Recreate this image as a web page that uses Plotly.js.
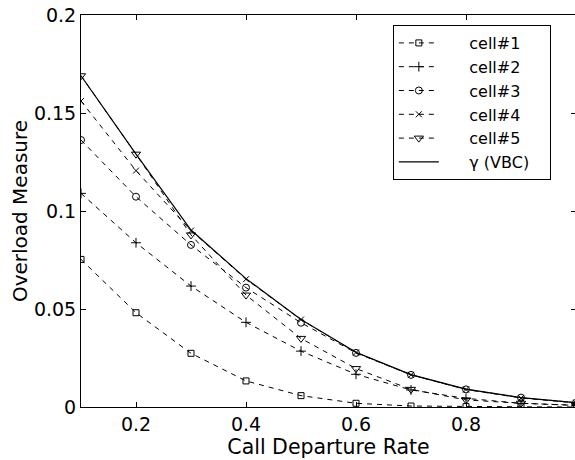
<!DOCTYPE html>
<html>
<head>
<meta charset="utf-8">
<script src="https://cdn.plot.ly/plotly-3.0.1.min.js"></script>
<style>html,body{margin:0;padding:0;overflow:hidden;background:#fff;}</style>
</head>
<body>
<div id="chart" style="width:576px;height:460px;"></div>
<script>
const rates = [0.1, 0.2, 0.3, 0.4, 0.5, 0.6, 0.7, 0.8, 0.9, 1.0];
const cell1 = [0.0753, 0.0481, 0.0274, 0.0133, 0.0058, 0.0019, 0.0005, 0.0002, 0.0001, 0.0000];
const cell2 = [0.109, 0.0838, 0.0617, 0.0432, 0.0285, 0.0167, 0.0087, 0.0044, 0.0019, 0.0009];
const cell3 = [0.1362, 0.1073, 0.0827, 0.0609, 0.0430, 0.0276, 0.0164, 0.0090, 0.0048, 0.0022];
const cell4 = [0.1561, 0.1206, 0.0900, 0.0652, 0.0446, 0.0278, 0.0164, 0.0089, 0.0046, 0.0021];
const cell5 = [0.169, 0.129, 0.0878, 0.0571, 0.0350, 0.0196, 0.0090, 0.0036, 0.0019, 0.0008];
const vbc   = [0.169, 0.129, 0.0903, 0.0655, 0.0447, 0.0279, 0.0165, 0.0091, 0.0048, 0.0022];
const names = ['cell#1', 'cell#2', 'cell#3', 'cell#4', 'cell#5', 'γ (VBC)'];
const symbols = ['square-open', 'cross-thin-open', 'circle-open', 'x-thin-open', 'triangle-down-open'];
const sizes = [6, 7, 7, 6, 8];

const pad = '\u00a0\u00a0\u00a0\u00a0\u00a0';
const series = [cell1, cell2, cell3, cell4, cell5];
const traces = series.map((ys, i) => ({
  x: rates, y: ys, name: pad + names[i], type: 'scatter', mode: 'lines+markers',
  line: {color: '#000', width: 1, dash: '5px,5px'},
  marker: {symbol: symbols[i], size: sizes[i], color: '#000', line: {color: '#000', width: 1}}
}));
traces.push({
  x: rates, y: vbc, name: pad + names[5] + '\u00a0\u00a0\u00a0', type: 'scatter', mode: 'lines',
  line: {color: '#000', width: 1.2}
});

const fam = 'DejaVu Sans, Liberation Sans, Arial, sans-serif';
const layout = {
  width: 576, height: 460,
  margin: {l: 81, r: 0, t: 15, b: 53},
  paper_bgcolor: '#fff', plot_bgcolor: '#fff',
  font: {family: fam, color: '#000', size: 19},
  showlegend: true,
  legend: {
    x: 0.630, y: 0.9745, xanchor: 'left', yanchor: 'top',
    bgcolor: '#fff', bordercolor: '#000', borderwidth: 1,
    font: {family: fam, size: 16, color: '#000'},
    tracegroupgap: 0, itemwidth: 40
  },
  xaxis: {
    range: [0.1, 1.0], tickvals: [0.2, 0.4, 0.6, 0.8], ticktext: ['0.2', '0.4', '0.6', '0.8'],
    ticks: 'inside', ticklen: 5, tickcolor: '#000', showline: true, linecolor: '#000', linewidth: 1,
    mirror: 'allticks', showgrid: false, zeroline: false,
    tickfont: {size: 19}, title: {text: 'Call Departure Rate', font: {size: 20.5}, standoff: 4}
  },
  yaxis: {
    range: [0, 0.2], tickvals: [0, 0.05, 0.1, 0.15, 0.2], ticktext: ['0', '0.05', '0.1', '0.15', '0.2'],
    ticks: 'inside', ticklen: 5, tickcolor: '#000', showline: true, linecolor: '#000', linewidth: 1,
    mirror: 'allticks', showgrid: false, zeroline: false,
    tickfont: {size: 19}, title: {text: 'Overload Measure', font: {size: 20}, standoff: 0}
  }
};
Plotly.newPlot('chart', traces, layout, {displayModeBar: false, staticPlot: true});
</script>
</body>
</html>
